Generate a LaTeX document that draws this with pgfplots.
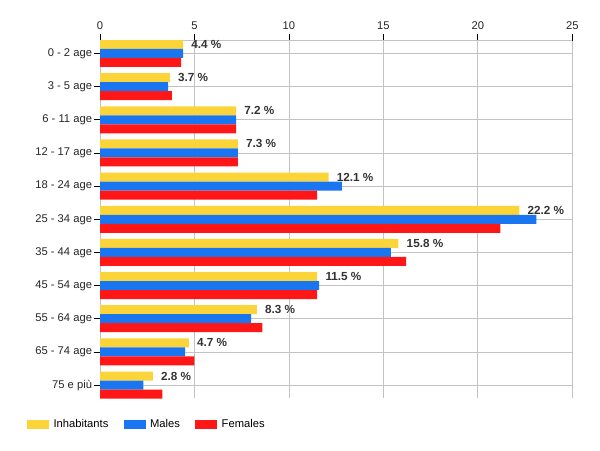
\documentclass[border=0pt]{standalone}
\usepackage{fontspec}
\setmainfont{Liberation Sans}
\usepackage{pgfplots}
\pgfplotsset{compat=1.18}
\definecolor{cyel}{RGB}{251,212,58}
\definecolor{cblu}{RGB}{26,118,240}
\definecolor{cred}{RGB}{255,22,22}
\definecolor{clab}{RGB}{51,51,51}
\definecolor{cgrid}{RGB}{195,195,195}
\begin{document}
\begin{tikzpicture}
\path[use as bounding box] (0,0) rectangle (450pt,337.5pt);
\begin{axis}[
  at={(75pt,307.1pt)}, anchor=north west,
  scale only axis, width=354.2pt, height=268.1pt,
  xbar, bar width=6.75pt,
  xmin=0, xmax=25, ymin=-0.39, ymax=10.39,
  axis x line*=top, axis y line*=left,
  axis line style={draw=cgrid},
  xtick={0,5,...,25},
  ytick={0,...,10},
  yticklabels={75 e più, 65 - 74 age, 55 - 64 age, 45 - 54 age, 35 - 44 age,
    25 - 34 age, 18 - 24 age, 12 - 17 age, 6 - 11 age, 3 - 5 age, 0 - 2 age},
  xmajorgrids, ymajorgrids,
  major grid style={draw=cgrid, line width=0.6pt},
  tick align=outside, major tick length=4.8pt,
  tick style={draw=black, line width=0.6pt},
  /pgf/number format/assume math mode=true,
  tick label style={font=\fontsize{8.4}{10}\selectfont, text=black!85},
  yticklabel style={inner sep=1pt},
  legend style={at={(-0.155,-0.073)}, anchor=west, draw=none, fill=none,
    inner sep=0pt, font=\fontsize{8.4}{10}\selectfont,
    legend columns=3,
    nodes={inner sep=3.4pt},
    /tikz/every even column/.append style={column sep=8pt}},
  legend cell align=left,
  legend image code/.code={\fill[#1] (0pt,-3.375pt) rectangle (16.5pt,3.375pt);},
]
\addplot[fill=cyel, draw=none, bar shift=6.75pt,
  point meta=x,
  nodes near coords={\pgfmathprintnumber[fixed,precision=1,fixed zerofill]{\pgfplotspointmeta}~\%},
  every node near coord/.append style={anchor=west, inner sep=0pt, xshift=6pt,
    font=\fontsize{8.8}{10}\selectfont\bfseries, text=clab}]
coordinates {
(4.4,10) (3.7,9) (7.2,8) (7.3,7) (12.1,6) (22.2,5)
(15.8,4) (11.5,3) (8.3,2) (4.7,1) (2.8,0)
};
\addplot[fill=cblu, draw=none, bar shift=0pt]
coordinates {
(4.4,10) (3.6,9) (7.2,8) (7.3,7) (12.8,6) (23.1,5)
(15.4,4) (11.6,3) (8.0,2) (4.5,1) (2.3,0)
};
\addplot[fill=cred, draw=none, bar shift=-6.75pt]
coordinates {
(4.3,10) (3.8,9) (7.2,8) (7.3,7) (11.5,6) (21.2,5)
(16.2,4) (11.5,3) (8.6,2) (5.0,1) (3.3,0)
};
\legend{Inhabitants, Males, Females}
\end{axis}
\end{tikzpicture}
\end{document}
